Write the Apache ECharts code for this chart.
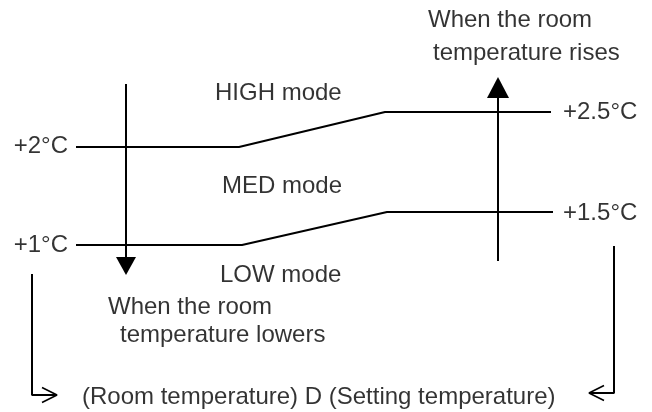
<!DOCTYPE html>
<html>
<head>
<meta charset="utf-8">
<script src="https://cdn.jsdelivr.net/npm/echarts@6/dist/echarts.min.js"></script>
<style>
  html, body { margin: 0; padding: 0; background: #fff; }
  #chart { width: 652px; height: 412px; }
</style>
</head>
<body>
<div id="chart"></div>
<script>
// diagram units: x across the page, y downwards (schematic, not to scale)
const highSwitch = [[76, 147], [239, 147], [385, 112], [551, 112]];
const medSwitch = [[76, 245], [242, 245], [387, 212], [553, 212]];
const fallArrow = [[126, 84], [126, 275]];
const riseArrow = [[498, 261], [498, 77]];
const leftBracket = [[32, 274], [32, 395], [57, 395]];
const rightBracket = [[614, 246], [614, 393], [589, 393]];

const labelTexts = [
  'When the room', 'temperature rises',
  'HIGH mode', 'MED mode', 'LOW mode',
  '+2°C', '+1°C', '+2.5°C', '+1.5°C',
  'When the room', 'temperature lowers',
  '(Room temperature) D (Setting temperature)'
];
const labelAnchors = [
  [428, 20], [433, 53],
  [215, 93], [222, 186], [220, 275],
  [68, 146], [68, 245], [563, 112], [563, 213],
  [108, 307], [120, 335],
  [82, 397]
];
const labelSides = [
  'right', 'right',
  'right', 'right', 'right',
  'left', 'left', 'right', 'right',
  'right', 'right',
  'right'
];

const ink = '#000';

function polyline(points, width) {
  return {
    type: 'line',
    data: points,
    symbol: 'none',
    silent: true,
    lineStyle: {color: ink, width: width || 2},
    z: 2
  };
}

// open ">" head at the end of a bracket
function chevron(points, size) {
  const [a, b] = points.slice(-2);
  const dx = Math.sign(b[0] - a[0]);
  return polyline([
    [b[0] - dx * size, b[1] - size / 2],
    b,
    [b[0] - dx * size, b[1] + size / 2]
  ], 1.6);
}

// filled triangle head at the end of an arrow
function arrowHead(points, w, h) {
  const [a, b] = points;
  const dy = Math.sign(b[1] - a[1]);
  return {
    type: 'scatter',
    data: [[b[0], b[1] - dy * h / 2]],
    symbol: 'triangle',
    symbolSize: [w, h],
    symbolRotate: dy > 0 ? 180 : 0,
    itemStyle: {color: ink, opacity: 1},
    silent: true,
    z: 3
  };
}

const chart = echarts.init(document.getElementById('chart'));
chart.setOption({
  animation: false,
  grid: {left: 0, right: 0, top: 0, bottom: 0},
  xAxis: {type: 'value', min: 0, max: 652, show: false},
  yAxis: {type: 'value', min: 0, max: 412, inverse: true, show: false},
  series: [
    polyline(highSwitch),
    polyline(medSwitch),
    polyline(fallArrow.map((p, i) => i ? [p[0], p[1] - 10] : p)),
    polyline(riseArrow.map((p, i) => i ? [p[0], p[1] + 10] : p)),
    arrowHead(fallArrow, 20, 18),
    arrowHead(riseArrow, 22, 21),
    polyline(leftBracket),
    polyline(rightBracket),
    chevron(leftBracket, 15),
    chevron(rightBracket, 15),
    {
      type: 'scatter',
      symbolSize: 0,
      silent: true,
      data: labelTexts.map((t, i) => ({
        name: t,
        value: labelAnchors[i],
        label: {position: labelSides[i]}
      })),
      label: {
        show: true,
        distance: 0,
        formatter: '{b}',
        color: ink,
        fontSize: 24,
        fontFamily: 'Liberation Sans, Arial, sans-serif'
      },
      z: 4
    }
  ]
});
</script>
</body>
</html>
